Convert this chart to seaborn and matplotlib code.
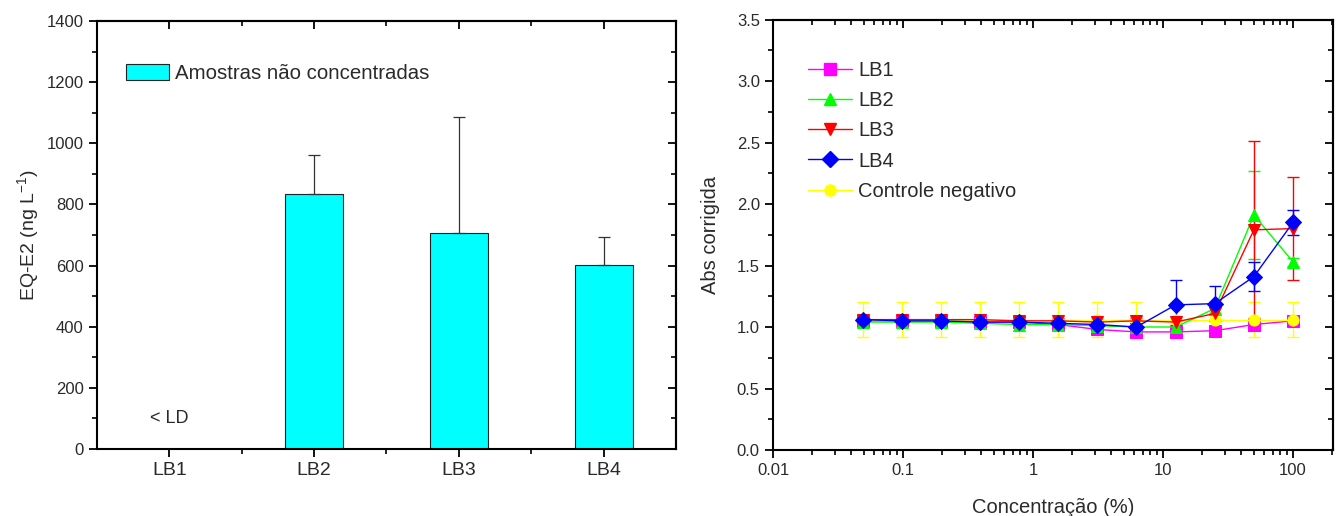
import numpy as np
import pandas as pd
import matplotlib
matplotlib.use("Agg")
import matplotlib.pyplot as plt
import seaborn as sns
from matplotlib.ticker import MultipleLocator, FixedLocator, LogLocator, NullFormatter
from matplotlib.lines import Line2D

# ---------------- data ----------------
samples = ["LB1", "LB2", "LB3", "LB4"]
eq_e2 = [0, 835, 707, 603]
eq_e2_err = [0, 128, 380, 89]

conc = [0.0488, 0.0977, 0.195, 0.39, 0.78, 1.5625, 3.125, 6.25, 12.5, 25, 50, 100]
lb1 = [1.05, 1.05, 1.05, 1.04, 1.04, 1.02, 0.98, 0.96, 0.96, 0.97, 1.02, 1.05]
lb1_err = [0.02, 0.02, 0.02, 0.02, 0.02, 0.02, 0.02, 0.02, 0.02, 0.02, 0.02, 0.02]
lb2 = [1.04, 1.04, 1.04, 1.03, 1.02, 1.02, 1.01, 1.00, 1.00, 1.15, 1.91, 1.53]
lb2_err = [0.02, 0.02, 0.02, 0.02, 0.02, 0.02, 0.02, 0.02, 0.02, 0.04, 0.36, 0.03]
lb3 = [1.06, 1.06, 1.06, 1.06, 1.05, 1.05, 1.04, 1.05, 1.04, 1.11, 1.79, 1.80]
lb3_err = [0.02, 0.02, 0.02, 0.02, 0.02, 0.02, 0.02, 0.02, 0.02, 0.05, 0.72, 0.42]
lb4 = [1.06, 1.05, 1.05, 1.04, 1.04, 1.03, 1.02, 1.00, 1.18, 1.19, 1.41, 1.85]
lb4_err = [0.02, 0.02, 0.02, 0.02, 0.02, 0.02, 0.02, 0.03, 0.20, 0.14, 0.12, 0.10]
ctrl = [1.06, 1.06, 1.06, 1.06, 1.06, 1.06, 1.06, 1.06, 1.06, 1.06, 1.06, 1.06]
ctrl_err = [0.14, 0.14, 0.14, 0.14, 0.14, 0.14, 0.14, 0.14, 0.14, 0.14, 0.14, 0.14]

series_names = ["LB1", "LB2", "LB3", "LB4", "Controle negativo"]
series_vals = [lb1, lb2, lb3, lb4, ctrl]
series_errs = [lb1_err, lb2_err, lb3_err, lb4_err, ctrl_err]
series_colors = ["#FF00FF", "#00FF00", "#FF0000", "#0000FF", "#FFFF00"]
series_markers = ["s", "^", "v", "D", "o"]

# ---------------- style ----------------
sns.set_style("ticks")
plt.rcParams["font.family"] = ["Liberation Sans", "DejaVu Sans"]
plt.rcParams["mathtext.default"] = "regular"
TXT = "#2a2a2a"
plt.rcParams["text.color"] = TXT
plt.rcParams["axes.labelcolor"] = TXT
plt.rcParams["xtick.color"] = "black"
plt.rcParams["ytick.color"] = "black"
plt.rcParams["xtick.labelcolor"] = TXT
plt.rcParams["ytick.labelcolor"] = TXT

fig = plt.figure(figsize=(13.37, 5.16), dpi=100)
axL = fig.add_axes([0.0725, 0.1298, 0.4331, 0.8295])
axR = fig.add_axes([0.5782, 0.1279, 0.4188, 0.8343])

def style_axes(ax):
    for s in ax.spines.values():
        s.set_linewidth(1.5)
        s.set_color("black")
        s.set_visible(True)
    ax.tick_params(which="major", direction="out", length=6, width=1.3, labelsize=12)
    ax.tick_params(which="minor", direction="out", length=3.5, width=1.2)

def mirror(ax, xmajor, xminor, ymajor, yminor):
    top = ax.secondary_xaxis("top")
    top.xaxis.set_major_locator(xmajor)
    top.xaxis.set_minor_locator(xminor)
    top.xaxis.set_minor_formatter(NullFormatter())
    top.tick_params(which="major", direction="in", length=6, width=1.3, labeltop=False)
    top.tick_params(which="minor", direction="in", length=3.5, width=1.2)
    top.spines["top"].set_linewidth(1.5)
    right = ax.secondary_yaxis("right")
    right.yaxis.set_major_locator(ymajor)
    right.yaxis.set_minor_locator(yminor)
    right.tick_params(which="major", direction="in", length=6, width=1.3, labelright=False)
    right.tick_params(which="minor", direction="in", length=3.5, width=1.2)
    right.spines["right"].set_linewidth(1.5)

# ---------------- left: bar chart ----------------
df_bar = pd.DataFrame({"Amostra": samples, "EQ": eq_e2})
sns.barplot(data=df_bar, x="Amostra", y="EQ", ax=axL, color="#00FFFF",
            width=0.4, edgecolor="#222222", linewidth=0.8, saturation=1,
            errorbar=None, label="Amostras não concentradas")
xpos = np.arange(len(samples))
axL.errorbar(xpos[1:], eq_e2[1:], yerr=[np.zeros(3), eq_e2_err[1:]], fmt="none",
             ecolor="#333333", elinewidth=0.9, capsize=4, capthick=0.9)
axL.set_xlim(-0.5, 3.5)
axL.set_ylim(0, 1400)
axL.yaxis.set_major_locator(MultipleLocator(200))
axL.yaxis.set_minor_locator(MultipleLocator(100))
axL.xaxis.set_minor_locator(FixedLocator([0.5, 1.5, 2.5]))
style_axes(axL)
axL.tick_params(axis="x", labelsize=14)
axL.set_xlabel("")
axL.set_ylabel("EQ-E2 (ng L$^{-1}$)", fontsize=14, labelpad=4)
axL.text(0, 100, "< LD", ha="center", va="center", fontsize=13, color=TXT)
axL.legend(loc="upper left", bbox_to_anchor=(0.018, 0.942), frameon=False,
           fontsize=14.7, handlelength=2.1, handleheight=0.85, handletextpad=0.3)
mirror(axL, FixedLocator(xpos), FixedLocator([0.5, 1.5, 2.5]),
       MultipleLocator(200), MultipleLocator(100))

# ---------------- right: dose-response lines ----------------
rows = []
for name, vals in zip(series_names, series_vals):
    for c, v in zip(conc, vals):
        rows.append({"conc": c, "abs": v, "serie": name})
df_line = pd.DataFrame(rows)

draw_order = ["LB1", "Controle negativo", "LB2", "LB3", "LB4"]
for name in draw_order:
    i = series_names.index(name)
    col = series_colors[i]
    axR.errorbar(conc, series_vals[i], yerr=series_errs[i], fmt="none",
                 ecolor=col, elinewidth=1.0, capsize=4, capthick=1.0, zorder=2)
    sns.lineplot(data=df_line[df_line["serie"] == name], x="conc", y="abs",
                 ax=axR, color=col, marker=series_markers[i], markersize=8,
                 markeredgecolor=col, linewidth=1.0, legend=False, zorder=3)

axR.set_xscale("log")
axR.set_xlim(0.01, 203)
axR.set_ylim(0, 3.5)
axR.set_xticks([0.01, 0.1, 1, 10, 100])
axR.set_xticklabels(["0.01", "0.1", "1", "10", "100"])
axR.xaxis.set_minor_locator(LogLocator(base=10, subs=np.arange(2, 10), numticks=20))
axR.xaxis.set_minor_formatter(NullFormatter())
axR.yaxis.set_major_locator(MultipleLocator(0.5))
axR.yaxis.set_minor_locator(MultipleLocator(0.25))
axR.yaxis.set_major_formatter(matplotlib.ticker.FormatStrFormatter("%.1f"))
style_axes(axR)
axR.set_xlabel("Concentração (%)", fontsize=14.5, labelpad=14)
axR.set_ylabel("Abs corrigida", fontsize=14.5, labelpad=12)

handles = [Line2D([0], [0], color=col, marker=mk, markersize=8, linewidth=1.0,
                  markeredgecolor=col)
           for col, mk in zip(series_colors, series_markers)]
axR.legend(handles, series_names, loc="upper left", bbox_to_anchor=(0.03, 0.945),
           frameon=False, fontsize=14.5, handlelength=2.2, handletextpad=0.3,
           labelspacing=0.55)
mirror(axR, FixedLocator([0.01, 0.1, 1, 10, 100]),
       LogLocator(base=10, subs=np.arange(2, 10), numticks=20),
       MultipleLocator(0.5), MultipleLocator(0.25))

fig.savefig("out.png", dpi=100, facecolor="white")
